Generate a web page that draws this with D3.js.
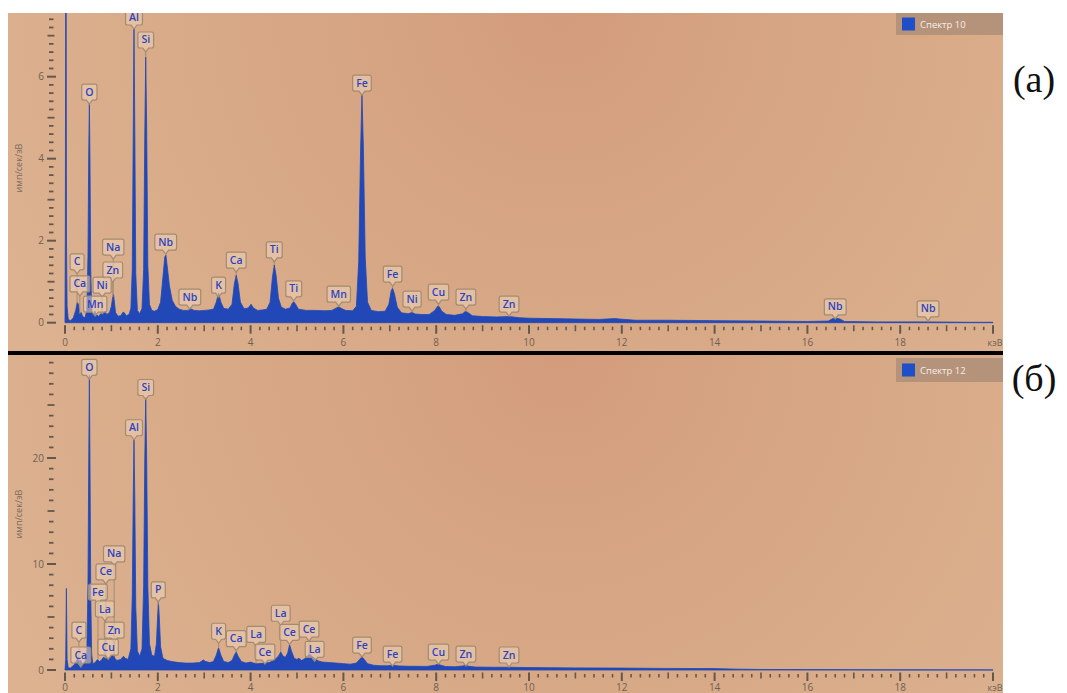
<!DOCTYPE html>
<html>
<head>
<meta charset="utf-8">
<script src="https://cdn.jsdelivr.net/npm/d3@7"></script>
<style>
  html, body { margin: 0; padding: 0; background: #ffffff; }
  svg { display: block; }
</style>
</head>
<body>
<svg id="chart" width="1067" height="693"></svg>
<script>
// ---------- Spectrum 10: [energy keV, counts per sec per eV] ----------
const spectrum10 = [
  [0.000,0],[0.008,2.5],[0.015,8.0],[0.025,8.0],[0.032,2.0],[0.045,0.4],[0.07,0.08],[0.12,0.05],
  [0.18,0.12],[0.23,0.3],[0.265,0.5],[0.29,0.45],[0.32,0.22],[0.35,0.25],[0.38,0.15],[0.43,0.12],
  [0.47,0.3],[0.495,1.6],[0.512,4.2],[0.525,5.36],[0.538,4.0],[0.555,1.3],[0.575,0.3],[0.61,0.18],
  [0.645,0.28],[0.68,0.2],[0.72,0.15],[0.77,0.22],[0.82,0.2],[0.86,0.28],[0.9,0.2],[0.96,0.25],
  [1.0,0.4],[1.025,0.6],[1.045,0.7],[1.065,0.5],[1.09,0.25],[1.14,0.16],[1.2,0.17],[1.255,0.26],
  [1.28,0.24],[1.32,0.17],[1.38,0.2],[1.42,0.35],[1.45,1.3],[1.47,4.5],[1.487,7.18],[1.505,4.6],
  [1.525,1.2],[1.56,0.3],[1.61,0.22],[1.66,0.35],[1.695,1.3],[1.72,4.6],[1.74,6.48],[1.76,4.8],
  [1.785,1.4],[1.82,0.45],[1.87,0.3],[1.93,0.28],[2.0,0.32],[2.06,0.5],[2.11,1.1],[2.15,1.6],
  [2.175,1.65],[2.2,1.4],[2.25,0.9],[2.31,0.55],[2.38,0.4],[2.46,0.33],[2.55,0.3],[2.65,0.3],
  [2.71,0.34],[2.78,0.3],[2.9,0.29],[3.0,0.3],[3.1,0.31],[3.2,0.33],[3.26,0.5],[3.31,0.72],
  [3.36,0.5],[3.42,0.35],[3.52,0.33],[3.6,0.45],[3.65,0.95],[3.69,1.16],[3.73,0.95],[3.78,0.5],
  [3.86,0.34],[3.95,0.36],[4.01,0.45],[4.06,0.36],[4.15,0.3],[4.25,0.31],[4.35,0.33],[4.42,0.5],
  [4.47,1.1],[4.51,1.41],[4.55,1.15],[4.6,0.6],[4.66,0.38],[4.75,0.33],[4.85,0.36],[4.9,0.48],
  [4.93,0.51],[4.97,0.45],[5.03,0.33],[5.2,0.3],[5.4,0.3],[5.6,0.29],[5.75,0.3],[5.85,0.36],
  [5.9,0.39],[5.95,0.35],[6.05,0.3],[6.2,0.29],[6.28,0.4],[6.33,1.5],[6.37,4.2],[6.40,5.55],
  [6.43,4.3],[6.47,1.6],[6.52,0.5],[6.6,0.3],[6.75,0.27],[6.9,0.28],[6.98,0.45],[7.03,0.78],
  [7.06,0.84],[7.1,0.7],[7.16,0.38],[7.25,0.24],[7.4,0.22],[7.48,0.25],[7.55,0.21],[7.7,0.2],
  [7.85,0.2],[7.97,0.3],[8.03,0.4],[8.06,0.4],[8.12,0.28],[8.22,0.2],[8.4,0.18],[8.57,0.22],
  [8.63,0.28],[8.68,0.25],[8.78,0.17],[9.0,0.15],[9.3,0.14],[9.57,0.15],[9.8,0.12],[10.0,0.11],
  [10.5,0.1],[11.0,0.09],[11.5,0.08],[11.85,0.1],[11.95,0.09],[12.3,0.06],[13.0,0.06],[14.0,0.05],
  [15.0,0.04],[16.0,0.03],[16.45,0.04],[16.55,0.1],[16.62,0.11],[16.7,0.09],[16.8,0.03],[17.5,0.02],
  [18.6,0.02],[19.5,0.01],[20.0,0.01]
];

// ---------- Spectrum 12 ----------
const spectrum12 = [
  [0,0],[0.015,1.0],[0.03,7.7],[0.045,1.0],[0.07,0.2],[0.12,0.2],[0.2,0.5],[0.25,0.9],
  [0.285,1.15],[0.31,0.8],[0.34,0.9],[0.37,0.6],[0.42,0.6],[0.47,1.5],[0.495,8],[0.512,20],
  [0.525,27.8],[0.538,20],[0.555,7],[0.575,1.5],[0.6,0.6],[0.65,0.7],[0.7,1.0],[0.74,0.8],
  [0.78,0.9],[0.83,1.2],[0.88,1.1],[0.93,1.0],[0.98,1.2],[1.02,1.4],[1.045,1.5],[1.075,1.1],
  [1.12,0.9],[1.2,1.0],[1.26,1.3],[1.3,1.1],[1.36,1.0],[1.42,2.0],[1.45,7],[1.47,16],
  [1.487,21.7],[1.505,16],[1.525,6],[1.56,1.8],[1.61,1.3],[1.66,2],[1.695,8],[1.72,20],
  [1.74,25.7],[1.76,20],[1.785,8],[1.82,2.5],[1.87,1.4],[1.93,1.3],[1.97,2.5],[1.995,5.0],
  [2.013,6.4],[2.03,5.2],[2.06,2.2],[2.11,1.1],[2.2,0.9],[2.3,0.8],[2.45,0.7],[2.6,0.65],
  [2.75,0.65],[2.9,0.7],[2.98,0.95],[3.03,0.8],[3.12,0.7],[3.2,0.8],[3.26,1.4],[3.31,2.1],
  [3.36,1.4],[3.42,0.8],[3.52,0.7],[3.6,0.9],[3.65,1.4],[3.69,1.7],[3.73,1.3],[3.8,0.8],
  [3.9,0.65],[4.0,0.75],[4.06,0.65],[4.15,0.6],[4.3,0.65],[4.4,0.7],[4.5,0.9],[4.6,1.3],
  [4.65,1.7],[4.7,1.3],[4.75,1.2],[4.8,1.6],[4.84,2.4],[4.88,1.8],[4.94,1.1],[5.0,1.0],
  [5.04,1.1],[5.1,0.9],[5.18,1.1],[5.24,1.4],[5.27,1.5],[5.32,1.3],[5.38,1.1],[5.46,0.85],
  [5.55,0.75],[5.7,0.7],[5.85,0.65],[6.0,0.6],[6.15,0.55],[6.28,0.65],[6.35,1.0],[6.4,1.25],
  [6.45,1.0],[6.52,0.6],[6.65,0.45],[6.8,0.4],[6.95,0.4],[7.06,0.45],[7.2,0.38],[7.4,0.35],
  [7.6,0.35],[7.8,0.34],[7.97,0.45],[8.04,0.55],[8.1,0.45],[8.2,0.33],[8.4,0.3],[8.57,0.38],
  [8.64,0.45],[8.7,0.35],[8.85,0.28],[9.2,0.26],[9.57,0.26],[10,0.23],[11,0.2],[12,0.18],
  [13,0.15],[14,0.13],[14.5,0.08],[15,0.05],[16,0.04],[17,0.03],[18,0.02],[20,0.01]
];

// ---------- Peak identification labels ----------
const labels10Names = ["Al","Si","O","Fe","Nb","Na","Zn","C","Ca","Ni","Mn","Nb","K","Ca","Ti","Ti","Mn","Fe","Ni","Cu","Zn","Zn","Nb","Nb"];
const labels10KeV   = [1.487,1.74,0.525,6.40,2.17,1.04,1.03,0.26,0.32,0.80,0.65,2.69,3.31,3.69,4.51,4.93,5.90,7.06,7.48,8.05,8.64,9.57,16.6,18.6];
const labels10Level = [7.26,6.70,5.43,5.65,1.77,1.65,1.09,1.29,0.75,0.72,0.26,0.43,0.72,1.33,1.58,0.63,0.50,0.99,0.38,0.55,0.43,0.26,0.19,0.14];

const labels12Names = ["O","Si","Al","P","Na","Ce","Fe","La","Zn","C","Cu","Ca","K","Ca","La","Ce","La","Ce","Ce","La","Fe","Fe","Cu","Zn","Zn"];
const labels12KeV   = [0.525,1.74,1.487,2.01,1.06,0.88,0.71,0.86,1.06,0.30,0.93,0.34,3.31,3.69,4.12,4.31,4.65,4.84,5.26,5.38,6.40,7.06,8.05,8.64,9.57];
const labels12Level = [27.8,25.9,22.1,6.8,10.2,8.5,6.6,5.0,3.0,3.0,1.4,0.66,2.9,2.2,2.6,0.94,4.6,2.8,3.1,1.2,1.6,0.75,0.94,0.75,0.66];

// ---------- Axis ticks ----------
const xTickValues = [0,2,4,6,8,10,12,14,16,18];
const xTickLabels = ["0","2","4","6","8","10","12","14","16","18"];
const yTicks10 = [0,2,4,6];
const yTicks12 = [0,10,20];

const svg = d3.select("#chart");
const defs = svg.append("defs");

const x = d3.scaleLinear().domain([0, 20]).range([65, 993]);

const PANEL_X0 = 8, PANEL_X1 = 1003;
const INK = "#66574b";
const BLUE = "#2148b6";
const FONT = "'Open Sans', 'Noto Sans', sans-serif";

function heightAt(spec, e) {
  const i = d3.bisector(d => d[0]).left(spec, e);
  if (i <= 0) return spec[0][1];
  if (i >= spec.length) return spec[spec.length - 1][1];
  const a = spec[i - 1], b = spec[i];
  const t = (e - a[0]) / (b[0] - a[0]);
  return a[1] + t * (b[1] - a[1]);
}

function drawPanel(cfg) {
  const g = svg.append("g");
  const y = d3.scaleLinear().domain([0, cfg.yMax]).range([cfg.base, cfg.top]);

  // background with a warm hotspot near the top centre
  const grad = defs.append("radialGradient")
    .attr("id", "bg" + cfg.id).attr("gradientUnits", "userSpaceOnUse")
    .attr("cx", 560).attr("cy", cfg.top).attr("r", 620);
  grad.append("stop").attr("offset", "0%").attr("stop-color", "#d39c7c");
  grad.append("stop").attr("offset", "35%").attr("stop-color", "#d6a583");
  grad.append("stop").attr("offset", "100%").attr("stop-color", "#dcb290");
  g.append("rect")
    .attr("x", PANEL_X0).attr("y", cfg.top)
    .attr("width", PANEL_X1 - PANEL_X0).attr("height", cfg.bottom - cfg.top)
    .attr("fill", "url(#bg" + cfg.id + ")");

  defs.append("clipPath").attr("id", "clip" + cfg.id)
    .append("rect").attr("x", PANEL_X0).attr("y", cfg.top)
    .attr("width", PANEL_X1 - PANEL_X0).attr("height", cfg.bottom - cfg.top);

  const plot = g.append("g").attr("clip-path", "url(#clip" + cfg.id + ")");

  // spectrum
  const area = d3.area().x(d => x(d[0])).y0(y(0)).y1(d => y(d[1]));
  plot.append("path").datum(cfg.spectrum)
    .attr("d", area).attr("fill", BLUE)
    .attr("stroke", BLUE).attr("stroke-width", 0.8).attr("stroke-linejoin", "round");

  // peak labels: leader lines first, then the boxes
  const labs = cfg.names.map((n, i) => ({ name: n, keV: cfg.keV[i], level: cfg.level[i] }));
  labs.forEach(d => {
    const cx = x(d.keV), yb = y(d.level);
    const peakY = y(heightAt(cfg.spectrum, d.keV));
    if (peakY > yb + 4) {
      plot.append("line")
        .attr("x1", cx).attr("x2", cx).attr("y1", yb + 4).attr("y2", peakY)
        .attr("stroke", "#a48c74").attr("stroke-width", 1);
    }
  });
  labs.forEach(d => {
    const cx = x(d.keV), yb = y(d.level);
    const lg = plot.append("g");
    const box = lg.append("path");
    const t = lg.append("text")
      .attr("x", cx).attr("y", yb - 4.5)
      .attr("text-anchor", "middle")
      .attr("font-family", FONT).attr("font-size", 10.5).attr("font-weight", 600)
      .attr("fill", "#2c44c2").text(d.name);
    const w = Math.max(t.node().getComputedTextLength() + 7, 14);
    const h = 16, r = 2;
    const x0 = cx - w / 2, x1 = cx + w / 2, yt = yb - h;
    const p = d3.path();
    p.moveTo(x0 + r, yt);
    p.lineTo(x1 - r, yt); p.quadraticCurveTo(x1, yt, x1, yt + r);
    p.lineTo(x1, yb - r); p.quadraticCurveTo(x1, yb, x1 - r, yb);
    p.lineTo(cx + 3, yb); p.lineTo(cx, yb + 4); p.lineTo(cx - 3, yb);
    p.lineTo(x0 + r, yb); p.quadraticCurveTo(x0, yb, x0, yb - r);
    p.lineTo(x0, yt + r); p.quadraticCurveTo(x0, yt, x0 + r, yt);
    p.closePath();
    box.attr("d", p.toString())
      .attr("fill", "rgba(238,212,186,0.55)")
      .attr("stroke", "#a38b72").attr("stroke-width", 1.2);
  });

  // y axis ticks (detached short dashes)
  const ySteps = Math.floor(cfg.yMax / cfg.yMinor + 1e-6);
  for (let i = 0; i <= ySteps; i++) {
    const v = i * cfg.yMinor, yy = y(v);
    if (yy < cfg.top + 1) continue;
    const major = i % cfg.yMajorEvery === 0;
    const mid = i % cfg.yMidEvery === 0;
    const x0 = major ? 47 : (mid ? 47.5 : 49);
    const x1 = major ? 56 : (mid ? 54.5 : 53.5);
    g.append("line").attr("x1", x0).attr("x2", x1).attr("y1", yy).attr("y2", yy)
      .attr("stroke", INK).attr("stroke-width", major ? 2 : 1.8);
  }
  cfg.yTicks.forEach(v => {
    g.append("text").attr("x", 44).attr("y", y(v) + 3.5)
      .attr("text-anchor", "end").attr("font-family", FONT).attr("font-size", 10)
      .attr("fill", "#6f6055").text(v);
  });
  g.append("text")
    .attr("transform", `translate(22,${cfg.yLabelY}) rotate(-90)`)
    .attr("text-anchor", "middle").attr("font-family", FONT).attr("font-size", 9)
    .attr("fill", "#7a6a5e").text("имп/сек/эВ");

  // x axis ticks
  for (let i = 0; i <= 100; i++) {
    const xx = x(i * 0.2);
    const major = i % 10 === 0, mid = i % 5 === 0;
    const y0 = cfg.base + (major ? 2.5 : (mid ? 2.5 : 4));
    const y1 = cfg.base + (major ? 11 : (mid ? 8.5 : 7.5));
    g.append("line").attr("x1", xx).attr("x2", xx).attr("y1", y0).attr("y2", y1)
      .attr("stroke", INK).attr("stroke-width", major ? 2 : 1.6);
  }
  xTickValues.forEach((v, i) => {
    g.append("text").attr("x", x(v)).attr("y", cfg.base + cfg.xLabelDy)
      .attr("text-anchor", "middle").attr("font-family", FONT).attr("font-size", 10)
      .attr("fill", "#6f6055").text(xTickLabels[i]);
  });
  g.append("text").attr("x", x(20) + 2).attr("y", cfg.base + cfg.xLabelDy)
    .attr("text-anchor", "middle").attr("font-family", FONT).attr("font-size", 9)
    .attr("fill", "#6f6055").text("кэВ");

  // legend
  const lg = g.append("g");
  lg.append("rect").attr("x", 896).attr("y", cfg.legendY)
    .attr("width", PANEL_X1 - 896).attr("height", cfg.legendH).attr("fill", "#b5927a");
  lg.append("rect").attr("x", 902).attr("y", cfg.legendY + cfg.legendH / 2 - 6.5)
    .attr("width", 13).attr("height", 13).attr("fill", "#1f4fc8");
  lg.append("text").attr("x", 920).attr("y", cfg.legendY + cfg.legendH / 2 + 3.5)
    .attr("font-family", FONT).attr("font-size", 9.5).attr("fill", "#f6eee6")
    .text(cfg.legend);

  // panel letter
  svg.append("text").attr("x", 1034).attr("y", cfg.letterY)
    .attr("text-anchor", "middle").attr("font-family", "'Liberation Serif', 'DejaVu Serif', serif")
    .attr("font-size", 38).attr("fill", "#111").text(cfg.letter);
}

drawPanel({
  id: "a", top: 13, bottom: 351, base: 322.7, yMax: 7.553, xLabelDy: 23.5,
  spectrum: spectrum10, names: labels10Names, keV: labels10KeV, level: labels10Level,
  yMinor: 0.2, yMajorEvery: 10, yMidEvery: 5, yTicks: yTicks10, yLabelY: 168,
  legend: "Спектр 10", legendY: 13, legendH: 22, letter: "(a)", letterY: 92
});

drawPanel({
  id: "b", top: 355, bottom: 693, base: 670, yMax: 29.72, xLabelDy: 21,
  spectrum: spectrum12, names: labels12Names, keV: labels12KeV, level: labels12Level,
  yMinor: 1, yMajorEvery: 10, yMidEvery: 5, yTicks: yTicks12, yLabelY: 514,
  legend: "Спектр 12", legendY: 358, legendH: 24, letter: "(б)", letterY: 391
});

// divider between the two spectra
svg.append("rect").attr("x", PANEL_X0).attr("y", 351).attr("width", PANEL_X1 - PANEL_X0)
  .attr("height", 4).attr("fill", "#000");
</script>
</body>
</html>
